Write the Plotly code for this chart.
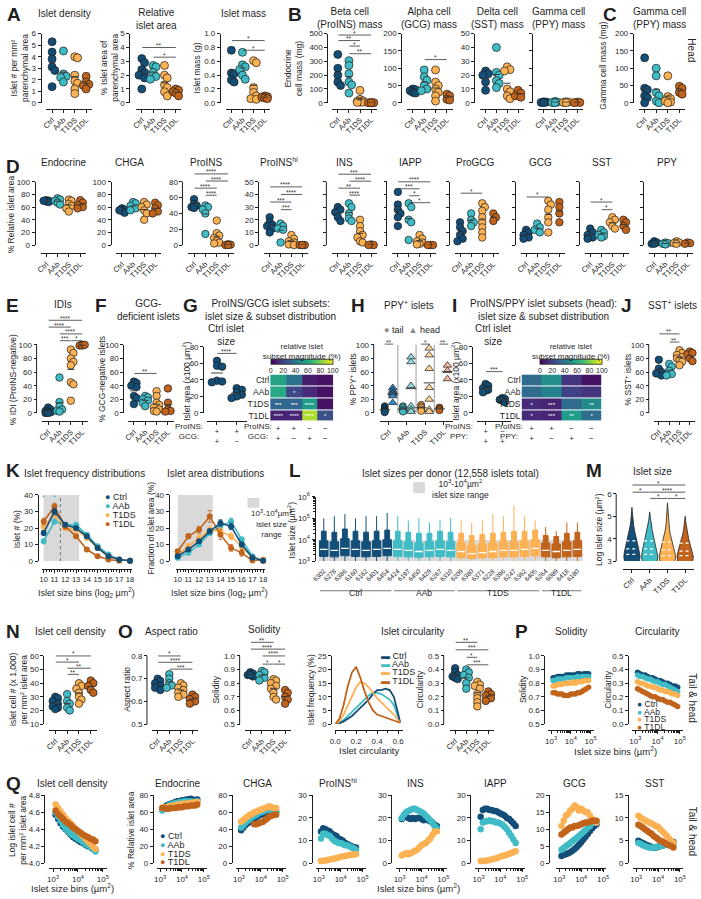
import numpy as np
import plotly.graph_objects as go

W, H = 701, 899
FONT = "Liberation Sans, Arial, Helvetica, sans-serif"
INK = "#1f1f1f"
GROUPS = ["Ctrl", "AAb", "T1DS", "T1DL"]
COLORS = ["#124e78", "#3fbcc6", "#fcb153", "#c1631a"]
HEAD_COLORS = ["#2d86c9", "#8cdadf", "#fdd596", "#f3b49c"]
BAND = "#d9d9d9"

# ======================= DATA =======================
A_density = [[5.3, 4.4, 3.8, 3.1, 2.8, 1.4], [4.5, 2.5, 2.3, 2.2, 1.8], [4.0, 3.9, 2.4, 1.9, 1.7, 1.2, 0.8], [2.3, 1.8, 1.6, 1.5, 1.2]]
A_area = [[3.2, 2.9, 2.4, 2.2, 2.0, 1.8, 1.0], [2.7, 2.6, 2.2, 1.9, 1.7], [2.7, 2.0, 1.8, 1.3, 1.1, 0.8, 0.5], [1.0, 0.9, 0.8, 0.7, 0.5]]
A_mass = [[0.76, 0.43, 0.42, 0.33, 0.30], [0.73, 0.55, 0.52, 0.48, 0.40, 0.34], [0.61, 0.58, 0.22, 0.15, 0.10, 0.06, 0.05], [0.10, 0.09, 0.08, 0.07, 0.06]]
B_beta = [[350, 250, 200, 150, 125], [305, 270, 210, 150, 130, 70], [90, 25, 15, 10, 5, 5, 3], [2, 1, 0, 0]]
B_alpha = [[40, 38, 35, 30, 28], [95, 75, 65, 50, 40, 35], [95, 60, 50, 40, 30, 20, 5], [25, 20, 10, 8]]
B_delta = [[23, 21, 20, 15, 9], [40, 22, 20, 16, 14, 11], [26, 24, 23, 10, 8, 5, 3], [9, 7, 5, 4]]
B_gamma = [[3, 2, 1, 0.5], [4, 2, 1, 0.5], [3, 2, 1, 0.5], [2, 1, 0.5]]
C_gamma_head = [[130, 42, 38, 20, 15, 0], [100, 78, 30, 20, 5, 0], [78, 18, 12, 5, 2, 0], [48, 42, 30, 25]]
A_area_sig = [(0, 3, 4.0, "**"), (1, 3, 3.3, "*")]
A_mass_sig = [(0, 3, 0.9, "*"), (1, 3, 0.76, "*")]
B_beta_sig = [(0, 3, 490, "*"), (0, 2, 450, "**"), (1, 2, 410, "*"), (1, 3, 355, "**")]
B_alpha_sig = [(1, 3, 125, "*")]

D_endo = [[71, 70, 69, 68, 70], [74, 72, 70, 67, 64], [72, 70, 65, 62, 58, 53], [71, 67, 63, 60, 58]]
D_chga = [[58, 56, 54, 51, 55], [68, 66, 62, 58, 55], [68, 64, 60, 55, 50, 40], [67, 63, 58, 53, 50]]
D_proins = [[58, 52, 50, 48, 47], [50, 48, 45, 40, 14], [31, 15, 12, 9, 5, 3, 2], [1, 0.5, 0, 0]]
D_proinshi = [[22, 18, 16, 15, 13, 10], [17, 15, 13, 12, 2], [8, 5, 3, 2, 1, 0.5, 0], [0, 0, 0, 0]]
D_ins = [[30, 28, 26, 22, 19], [33, 30, 25, 21, 19], [20, 15, 11, 8, 6, 3, 2], [0.5, 0, 0]]
D_iapp = [[42, 32, 28, 25, 22, 15], [33, 30, 20, 18, 4], [8, 5, 3, 2, 1, 0.5], [0, 0, 0]]
D_progcg = [[18, 14, 11, 8, 5, 3], [25, 20, 18, 15], [33, 30, 27, 22, 18, 14, 10, 6], [25, 22, 19]]
D_gcg = [[12, 10, 8, 6, 5], [17, 14, 12, 10], [35, 32, 28, 22, 18, 10], [34, 30, 25, 18]]
D_sst = [[13, 10, 8, 6, 5], [12, 10, 8, 7, 6], [22, 20, 18, 15, 13], [20, 18, 15, 12]]
D_ppy = [[3, 2, 1, 1], [2, 1.5, 1, 0.5], [3, 2, 1.5, 1], [2, 1.5, 1]]
D_proins_sig = [(0, 3, 90, "****"), (1, 3, 81, "****"), (0, 2, 72, "****"), (1, 2, 63, "****")]
D_proinshi_sig = [(0, 3, 46, "****"), (1, 3, 40, "****"), (0, 2, 34, "***"), (1, 2, 28, "***")]
D_ins_sig = [(0, 3, 56, "***"), (1, 3, 50.5, "****"), (0, 2, 45, "**"), (1, 2, 39.5, "****")]
D_iapp_sig = [(0, 3, 50, "****"), (0, 2, 44.5, "***"), (1, 2, 39, "*"), (1, 3, 33.5, "*")]
D_progcg_sig = [(0, 2, 41, "*")]
D_gcg_sig = [(0, 2, 38, "*")]
D_sst_sig = [(0, 2, 34, "*"), (1, 2, 28, "*")]

E_idi = [[8, 5, 3, 2, 1, 0, 0], [52, 16, 10, 5, 3, 2], [93, 88, 80, 75, 70, 45, 42, 18], [100, 99, 99, 100]]
E_idi_sig = [(0, 3, 136, "****"), (0, 2, 126, "****"), (1, 3, 116, "****"), (1, 2, 106, "***"), (2, 3, 106, "*")]
F_gcgneg = [[46, 44, 40, 38, 25, 22, 13], [25, 23, 20, 18, 15, 10], [32, 25, 15, 12, 8, 5, 3, 2], [36, 15, 5, 3, 2]]
F_gcgneg_sig = [(0, 2, 58, "**")]
G_size = [[63, 57, 56, 39, 38, 37], [30, 28, 25, 22, 20, 18]]
G_size_sig = [(0, 1, 72, "****")]
G_heat = [[58, 38, 8, 5], [60, 22, 12, 5], [33, 33, 55, 5], [10, 10, 88, 25]]
G_heat_txt = [["", "", "", ""], ["", "*", "", ""], ["***", "***", "****", ""], ["****", "****", "****", "*"]]
H_tail = [[10, 7, 5, 3, 2, 1], [10, 8, 5, 3, 2], [12, 10, 8, 5, 3], [8, 6, 4]]
H_head = [[37, 33, 30, 28, 25, 15], [82, 75, 40, 10, 5, 2], [95, 85, 65, 37, 20, 5, 2], [70, 62, 50]]
H_sig = [(0, "**"), (2, "*"), (3, "**")]
I_size = [[35, 33, 30, 28, 27, 25], [18, 17, 16, 15, 13]]
I_size_sig = [(0, 1, 50, "***")]
I_heat = [[35, 50, 15, 5], [35, 45, 20, 15], [12, 10, 35, 48], [12, 10, 55, 35]]
I_heat_txt = [["", "", "", ""], ["", "", "", ""], ["*", "***", "", "**"], ["*", "***", "**", "*"]]
J_sst = [[78, 65, 60, 55, 58], [72, 68, 62, 57, 55], [92, 88, 85, 82, 80, 78, 75, 70], [90, 86, 80, 76, 88]]
J_sst_sig = [(0, 2, 116, "**"), (1, 2, 104, "**")]

K_bins = [10, 11, 12, 13, 14, 15, 16, 17, 18]
K_freq = [[17, 30, 22, 20, 15, 8, 3, 1, 0.2], [12, 24, 22, 22, 16, 9, 4, 1, 0.2],
          [21, 28, 20, 19, 14, 8, 3, 1, 0.3], [24, 33, 21, 15, 7, 3, 1, 0.2, 0]]
K_freq_err = [[1.5, 2, 1, 1, 1, 0.8, 0.5, 0.3, 0.1], [1.5, 1.5, 1, 1, 1, 0.8, 0.5, 0.3, 0.1],
              [2, 2, 1.5, 1, 1, 0.8, 0.5, 0.3, 0.1], [2, 2, 1.5, 1, 1, 0.5, 0.3, 0.1, 0]]
K_area = [[3, 7, 12, 18, 23, 21, 10, 2, 0.3], [2, 5, 10, 17, 21, 24, 13, 3, 0.5],
          [4, 9, 14, 19, 18, 15, 9, 2, 1], [6, 15, 19, 27, 16, 8, 5, 0.3, 0]]
K_area_err = [[0.5, 1, 1, 1.5, 2, 2, 1.5, 0.8, 0.2], [0.5, 1, 1, 1.5, 2, 2, 1.5, 0.8, 0.2],
              [1, 1.5, 2, 2, 2, 2, 2, 1, 0.5], [1, 1.5, 2, 3.5, 3, 2, 2, 0.3, 0]]

L_donors = ["6302", "6278", "6386", "6160", "6162", "6401", "6454", "6424", "6197", "6450", "6429", "6267", "6310",
            "6209", "6380", "6371", "6228", "6396", "6247", "6362", "6405", "6264", "6089", "6418", "6180"]
L_donor_group = [0, 0, 0, 0, 0, 0, 0, 1, 1, 1, 1, 1, 1, 2, 2, 2, 2, 2, 2, 2, 2, 3, 3, 3, 3]
L_min = [3.0, 3.0, 3.0, 3.0, 3.0, 3.0, 3.0, 3.0, 3.0, 3.0, 3.0, 3.0, 3.0, 3.0, 3.0, 3.0, 3.0, 3.0, 3.0, 3.0, 3.0, 3.0, 3.0, 3.0, 3.0]
L_q1 = [3.22, 3.2, 3.25, 3.22, 3.2, 3.22, 3.25, 3.22, 3.2, 3.18, 3.2, 3.22, 3.2, 3.16, 3.12, 3.15, 3.16, 3.2, 3.2, 3.22, 3.25, 3.2, 3.16, 3.2, 3.22]
L_med = [3.55, 3.5, 3.6, 3.55, 3.5, 3.55, 3.6, 3.55, 3.5, 3.45, 3.5, 3.55, 3.5, 3.45, 3.35, 3.4, 3.45, 3.5, 3.5, 3.55, 3.6, 3.5, 3.45, 3.5, 3.55]
L_q3 = [3.95, 3.9, 4.05, 3.95, 3.9, 3.95, 4.0, 3.95, 3.9, 3.85, 3.9, 3.95, 3.9, 3.85, 3.75, 3.8, 3.85, 3.9, 3.9, 3.95, 4.0, 3.85, 3.8, 3.9, 3.95]
L_p90 = [4.4, 4.35, 4.5, 4.4, 4.35, 4.4, 4.45, 4.4, 4.35, 4.3, 4.3, 4.4, 4.35, 4.3, 4.2, 4.25, 4.3, 4.35, 4.4, 4.4, 4.45, 4.2, 4.15, 4.3, 4.35]
L_max = [5.0, 5.1, 5.2, 5.0, 5.1, 5.1, 5.25, 5.1, 4.9, 5.0, 4.8, 4.9, 5.0, 4.9, 4.8, 4.9, 5.2, 5.1, 5.6, 5.1, 4.9, 4.6, 4.4, 4.8, 4.8]

M_levels = [3.0, 3.2, 3.4, 3.6, 3.8, 4.0, 4.2, 4.4, 4.6, 4.8, 5.0, 5.2, 5.4, 5.6]
M_widths = [[0.92, 1.0, 0.93, 0.8, 0.66, 0.52, 0.4, 0.3, 0.21, 0.14, 0.08, 0.04, 0.0, 0.0],
            [0.92, 1.0, 0.94, 0.82, 0.68, 0.54, 0.41, 0.3, 0.21, 0.13, 0.07, 0.0, 0.0, 0.0],
            [0.92, 1.0, 0.9, 0.76, 0.6, 0.46, 0.35, 0.26, 0.18, 0.12, 0.08, 0.05, 0.03, 0.0],
            [0.92, 1.0, 0.9, 0.74, 0.57, 0.42, 0.3, 0.2, 0.12, 0.05, 0.0, 0.0, 0.0, 0.0]]
M_quart = [[3.3, 3.55, 3.9], [3.3, 3.55, 3.9], [3.25, 3.5, 3.85], [3.25, 3.45, 3.8]]
M_sig = [(0, 3, 6.4, "*"), (0, 1, 6.08, "*"), (1, 3, 6.08, "****"), (1, 2, 5.8, "*"), (2, 3, 5.8, "*")]

N_dens = [[30, 29, 27, 25, 23, 22, 21], [32, 27, 25, 22, 20], [40, 38, 36, 33, 30, 28, 25], [42, 40, 38, 35, 33]]
N_dens_sig = [(0, 3, 60, "*"), (0, 2, 55.5, "*"), (1, 3, 51, "**"), (1, 2, 46.5, "**")]
O_aspect = [[0.70, 0.69, 0.68, 0.67, 0.66, 0.65], [0.72, 0.70, 0.68, 0.67, 0.66],
            [0.68, 0.67, 0.66, 0.65, 0.64, 0.63, 0.62], [0.63, 0.62, 0.61, 0.60, 0.59]]
O_aspect_sig = [(0, 2, 0.80, "*"), (0, 3, 0.772, "****"), (1, 3, 0.742, "***")]
O_solid = [[0.88, 0.87, 0.86, 0.85, 0.86], [0.89, 0.88, 0.86, 0.84, 0.82],
           [0.83, 0.82, 0.80, 0.78, 0.76, 0.73, 0.70, 0.68], [0.75, 0.73, 0.70, 0.68, 0.65]]
O_solid_sig = [(0, 2, 1.10, "**"), (0, 3, 1.05, "****"), (1, 3, 1.0, "****"), (1, 2, 0.94, "*"), (2, 3, 0.94, "*")]
O_circ_bins = [0.0, 0.04, 0.08, 0.12, 0.16, 0.2, 0.24, 0.28, 0.32, 0.36, 0.4, 0.44, 0.48, 0.52, 0.56, 0.6, 0.62]
O_circ_freq = [[0, 0.3, 1, 2, 3, 4.5, 6, 7.5, 9, 11, 12.5, 12.5, 13, 12.5, 10, 4, 0.5],
               [0, 0.5, 1.5, 3, 4.5, 6, 7.5, 9, 10.5, 11.5, 11.5, 11, 10, 9, 7, 3, 0.5],
               [0, 1, 3.5, 7, 10.5, 13.5, 15.5, 15, 13.5, 11.5, 9.5, 8, 6.5, 5, 3.5, 1.5, 0.5],
               [0, 2, 7, 14, 19, 21, 17, 12, 8, 5, 3.5, 3, 2.5, 2, 1.5, 1, 0.5]]
O_circ = [[0.41, 0.38, 0.36, 0.35, 0.34, 0.33], [0.40, 0.38, 0.36, 0.34, 0.30, 0.26],
          [0.31, 0.29, 0.28, 0.26, 0.22, 0.19, 0.16, 0.13], [0.24, 0.22, 0.21, 0.19, 0.17]]
O_circ_sig = [(0, 2, 0.60, "**"), (0, 3, 0.545, "***"), (1, 2, 0.49, "*"), (1, 3, 0.435, "***")]

P_bins = [1259, 1629, 2109, 2738, 3548, 4597, 5957, 7718, 10000, 12957, 16788, 21752, 28184, 36517, 47315, 61306, 79433]
P_solid = [[0.84, 0.84, 0.85, 0.85, 0.85, 0.85, 0.86, 0.86, 0.86, 0.86, 0.86, 0.87, 0.87, 0.86, 0.87, 0.87, 0.87],
           [0.82, 0.82, 0.83, 0.83, 0.83, 0.83, 0.84, 0.84, 0.84, 0.84, 0.84, 0.85, 0.84, 0.85, 0.85, 0.85, 0.85],
           [0.78, 0.78, 0.79, 0.79, 0.79, 0.80, 0.80, 0.80, 0.80, 0.81, 0.80, 0.81, 0.81, 0.81, 0.82, 0.82, 0.82],
           [0.73, 0.73, 0.72, 0.72, 0.72, 0.71, 0.71, 0.71, 0.72, 0.72, 0.72, 0.73, 0.73, 0.74, 0.75, 0.76, 0.77]]
P_circ = [[0.38, 0.37, 0.36, 0.36, 0.35, 0.34, 0.34, 0.33, 0.32, 0.32, 0.31, 0.30, 0.30, 0.29, 0.28, 0.28, 0.27],
          [0.36, 0.35, 0.35, 0.34, 0.33, 0.33, 0.32, 0.31, 0.31, 0.30, 0.29, 0.29, 0.28, 0.27, 0.26, 0.25, 0.24],
          [0.31, 0.30, 0.30, 0.29, 0.28, 0.28, 0.27, 0.27, 0.26, 0.25, 0.25, 0.24, 0.24, 0.23, 0.22, 0.22, 0.21],
          [0.26, 0.25, 0.24, 0.23, 0.22, 0.21, 0.20, 0.20, 0.19, 0.18, 0.18, 0.17, 0.16, 0.16, 0.15, 0.14, 0.13]]

Q_bins = [1259, 1585, 1995, 2512, 3162, 3981, 5012, 6310, 7943, 10000, 12589, 15849, 19953, 25119, 31623, 39811, 50119]
Q_density = [[4.57, 4.52, 4.47, 4.43, 4.40, 4.37, 4.34, 4.31, 4.29, 4.27, 4.25, 4.24, 4.22, 4.20, 4.19, 4.17, 4.15],
             [4.60, 4.55, 4.50, 4.45, 4.41, 4.38, 4.35, 4.33, 4.31, 4.29, 4.27, 4.25, 4.23, 4.21, 4.19, 4.17, 4.14],
             [4.69, 4.65, 4.61, 4.57, 4.53, 4.50, 4.47, 4.44, 4.41, 4.38, 4.35, 4.32, 4.29, 4.26, 4.23, 4.20, 4.17],
             [4.62, 4.58, 4.55, 4.52, 4.49, 4.47, 4.45, 4.42, 4.40, 4.38, 4.36, 4.34, 4.32, 4.31, 4.29, 4.28, 4.26]]
Q_endo = [[64, 66, 68, 69, 70, 71, 72, 73, 73, 74, 74, 75, 75, 76, 75, 74, 75],
          [62, 64, 66, 68, 69, 70, 71, 71, 72, 72, 73, 73, 72, 73, 72, 71, 73],
          [65, 66, 66, 67, 67, 68, 68, 69, 69, 70, 70, 70, 71, 71, 71, 72, 72],
          [65, 65, 64, 64, 65, 65, 65, 66, 66, 66, 67, 67, 67, 68, 68, 68, 69]]
Q_chga = [[39, 42, 45, 47, 49, 51, 53, 54, 56, 57, 58, 59, 60, 61, 62, 61, 61],
          [42, 45, 48, 50, 52, 54, 56, 57, 59, 60, 61, 62, 63, 63, 62, 61, 60],
          [49, 51, 53, 55, 57, 58, 60, 61, 62, 63, 64, 65, 66, 67, 66, 65, 65],
          [None, None, None, None, None, None, 46, 46, 47, 48, 49, 51, 53, 55, 56, 57, 57]]
Q_proinshi = [[14, 15.5, 15, 14.5, 14, 13, 12.5, 12, 11, 10.5, 10, 9, 8.5, 8, 7.5, 7, 7],
              [11, 13, 13, 12.5, 12, 11, 10, 9.5, 9, 9, 8.5, 8, 8, 7.5, 7, 6.5, 6],
              [1, 1.2, 1.3, 1.5, 1.7, 1.9, 2.1, 2.3, 2.6, 2.9, 3.1, 3.3, 3.5, 3.7, 3.8, 3.9, 4.0],
              None]
Q_ins = [[19.5, 21, 20.5, 20, 19.5, 20, 19.5, 20, 20, 19.5, 19, 19.5, 19, 18.5, 18, 17, 16.5],
         [20, 21.5, 22.5, 23, 23.5, 24, 24, 23.5, 23, 22.5, 22, 21, 20, 19, 18, 16.5, 15.5],
         [3.5, 4, 4.5, 4, 4.5, 5, 5.5, 6, 7, 8, 8.5, 9, 10, 11, 12.5, 14, 14],
         None]
Q_iapp = [[20.5, 23.5, 24, 24, 23.5, 23.5, 23, 23, 22.5, 22, 21.5, 21, 20, 19.5, 18.5, 17.5, 16.5],
          [15, 18, 18.5, 18.5, 19, 18.5, 18.5, 18, 18, 17.5, 17, 16, 15, 13.5, 12, 10.5, 9],
          [1, 1, 1.2, 1.3, 1.5, 1.7, 2, 2.2, 2.5, 3, 3.2, 3.5, 3.8, 4.2, 4.5, 5, 5.3],
          None]
Q_gcg = [[2.2, 2.5, 2.7, 3, 3.3, 3.7, 4.2, 4.8, 5.5, 6.2, 7, 7.8, 8.6, 9.5, 10.3, 11, 11.5],
         [4, 4.5, 5, 5.5, 6, 6.5, 7, 7.5, 8, 8.6, 9.2, 9.8, 10.5, 11, 11.8, 12.2, 12],
         [11, 12.5, 14, 14.5, 15.5, 16, 17, 16.5, 15.5, 16, 15.5, 15, 15, 14, 13, 12.5, 12],
         [8.5, 9, 9.5, 10, 10.5, 10.5, 11, 11, 11.2, 11.5, 11.8, 12, 12, 12.2, 12.5, 12.5, 12.5]]
Q_sst = [[5, 4.7, 4.5, 4.2, 4, 3.8, 3.6, 3.5, 3.5, 3.6, 3.8, 4, 4.1, 4.3, 4.4, 4.5, 4.7],
         [4.5, 4.3, 4, 3.8, 3.6, 3.5, 3.4, 3.5, 3.6, 3.7, 3.8, 3.9, 4, 4.1, 4.2, 4, 4],
         [10.5, 10, 9.8, 9.5, 9.2, 9, 8.8, 8.5, 8.2, 8, 7.5, 7, 6.5, 6, 5.5, 5, 4.5],
         [8.5, 8.2, 7.9, 7.5, 7.2, 6.8, 6.5, 6, 5.7, 5.3, 5, 4.8, 4.5, 4.2, 4, 3.8, 3.5]]

# ======================= HELPERS =======================
fig = go.Figure()
ANN, SHP = [], []
AX = [0]
TICKF = dict(family=FONT, size=8, color=INK)


def T(x, y, s, size=10, xa="center", ya="middle", angle=0, color=INK, bold=False):
    ANN.append(dict(xref="paper", yref="paper", x=x / W, y=1 - y / H,
                    text=(f"<b>{s}</b>" if bold else s), showarrow=False,
                    xanchor=xa, yanchor=ya, textangle=angle,
                    font=dict(family=FONT, size=size, color=color)))


def YL(x, y, s):
    T(x, y, s, size=8.5, angle=-90)


def make_axes(xdom, ydom, xr, yr, yline_x=None, xline_y=None, xtype="linear", ytype="linear",
              xo=None, yo=None, yext=None):
    """ydom = (top_px, bottom_px) of the visible axis span yr; yext extends the data range
    above yr[1] (for significance marks) while the drawn axis line stops at yr[1]."""
    AX[0] += 1
    n = AX[0]
    s = "" if n == 1 else str(n)
    xid, yid = "x" + s, "y" + s
    base = dict(showgrid=False, zeroline=False, showline=True, linecolor=INK, linewidth=1,
                ticks="outside", ticklen=3, tickwidth=1, tickcolor=INK,
                tickfont=TICKF, fixedrange=True)
    ytop, ybot = ydom
    yrange = list(yr)
    ylinefl = True
    if yext is not None and yext > yr[1]:
        ppu = (ybot - ytop) / (yr[1] - yr[0])
        yrange = [yr[0], yext]
        SHP.append(dict(type="line", xref="paper", yref="paper", x0=yline_x / W, x1=yline_x / W,
                        y0=1 - ybot / H, y1=1 - ytop / H, line=dict(color=INK, width=1)))
        ytop = ybot - (yext - yr[0]) * ppu
        ylinefl = False
    xa = dict(base, domain=[xdom[0] / W, xdom[1] / W], range=xr, type=xtype)
    ya = dict(base, domain=[1 - ybot / H, 1 - ytop / H], range=yrange, type=ytype, showline=ylinefl)
    if xline_y is None:
        xa["anchor"] = yid
    else:
        xa.update(anchor="free", position=1 - xline_y / H)
    if yline_x is None:
        ya["anchor"] = xid
    else:
        ya.update(anchor="free", position=yline_x / W)
    if xo:
        xa.update(xo)
    if yo:
        ya.update(yo)
    fig.update_layout(**{"xaxis" + s: xa, "yaxis" + s: ya})
    return xid, yid


def sig(xid, yid, a, b, yv, s, color="#333333"):
    ANN.append(dict(x=b, y=yv, ax=a, ay=yv, xref=xid, yref=yid, axref=xid, ayref=yid, text="",
                    showarrow=True, arrowhead=0, arrowwidth=0.8, arrowcolor=color,
                    standoff=0, startstandoff=0, borderpad=0, font=dict(size=1)))
    ANN.append(dict(x=(a + b) / 2, y=yv, xref=xid, yref=yid, text=s, showarrow=False,
                    yanchor="bottom", yshift=-3.5, font=dict(family=FONT, size=6.5, color=color)))


def swarm(vals, ppu, ppc, d, maxoff=0.3):
    placed = []
    offs = [0.0] * len(vals)
    lim = maxoff * ppc
    cands = [0.0]
    k = 1
    while k * d * 0.35 <= lim + 1e-9:
        cands += [k * d * 0.35, -k * d * 0.35]
        k += 1
    for i in sorted(range(len(vals)), key=lambda q: -vals[q]):
        y = vals[i] * ppu
        best, bestd = 0.0, -1
        for c in cands:
            md = min([((c - px) ** 2 + (y - py) ** 2) ** 0.5 for px, py in placed] or [1e9])
            if md >= 0.55 * d:
                best = c
                break
            if md > bestd:
                best, bestd = c, md
        placed.append((best, y))
        offs[i] = best / ppc
    return offs


def dots(xid, yid, vals, center, ppu, ppc, color, msize, symbol="circle", maxoff=0.3):
    offs = swarm(vals, ppu, ppc, msize, maxoff)
    fig.add_trace(go.Scatter(x=[center + o for o in offs], y=vals, mode="markers",
                             marker=dict(size=msize, color=color, symbol=symbol,
                                         line=dict(width=0.7, color="#1b1b1b")),
                             cliponaxis=False, xaxis=xid, yaxis=yid, hoverinfo="skip"))
    m = float(np.mean(vals))
    fig.add_trace(go.Scatter(x=[center - 0.3, center + 0.3], y=[m, m], mode="lines",
                             line=dict(color="#3a3a3a", width=1), xaxis=xid, yaxis=yid, hoverinfo="skip"))


def dot_panel(xdom, ytop, ybot, yline_x, xline_y, yr, yticks, data, sigs=(), colors=None,
              labels=GROUPS, showyl=True, msize=7.5, fmt=None, xangle=-45):
    n = len(data)
    colors = colors or COLORS
    yo = dict(tickvals=yticks, showticklabels=showyl)
    if fmt:
        yo["tickformat"] = fmt
    xo = dict(tickvals=list(range(n)), ticktext=labels, tickangle=xangle,
              tickfont=dict(family=FONT, size=7.5, color=INK))
    yext = None
    if sigs:
        top = max(sg[2] for sg in sigs)
        if top >= yr[1]:
            yext = top + 0.02 * (yr[1] - yr[0])
    xid, yid = make_axes(xdom, (ytop, ybot), [-0.5, n - 0.5], yr, yline_x, xline_y, xo=xo, yo=yo, yext=yext)
    ppu = (ybot - ytop) / (yr[1] - yr[0])
    ppc = (xdom[1] - xdom[0]) / n
    for gi, vals in enumerate(data):
        dots(xid, yid, vals, gi, ppu, ppc, colors[gi], msize)
    for (a, b, yv, s) in sigs:
        sig(xid, yid, a, b, yv, s)
    return xid, yid


LOG_X = dict(tickvals=[1e3, 1e4, 1e5], ticktext=["10<sup>3</sup>", "10<sup>4</sup>", "10<sup>5</sup>"], tickangle=0,
             minor=dict(ticks="outside", ticklen=2, tickcolor=INK,
                        tickvals=[k * 10 ** e for e in (3, 4) for k in range(2, 10)]))


def size_panel(xdom, ytop, ybot, yline_x, xline_y, yr, yticks, series, bins, msize=6.5, fmt=None):
    yo = dict(tickvals=yticks)
    if fmt:
        yo["tickformat"] = fmt
    xid, yid = make_axes(xdom, (ytop, ybot), [2.85, 5.15], yr, yline_x, xline_y, xtype="log", xo=LOG_X, yo=yo)
    for gi, vals in enumerate(series):
        if vals is None:
            continue
        fig.add_trace(go.Scatter(x=bins, y=vals, mode="markers", marker=dict(size=msize, color=COLORS[gi]),
                                 cliponaxis=False, xaxis=xid, yaxis=yid, hoverinfo="skip"))
    return xid, yid


def legend_dots(x, y0, dy, sym="●", size=9):
    for gi, g in enumerate(GROUPS):
        T(x, y0 + gi * dy, f'<span style="color:{COLORS[gi]}">{sym}</span> {g}', size=size, xa="left")


def heat_panel(xdom, ydom, z, txt, coltext, rowhdr, cbx):
    xid, yid = make_axes(xdom, ydom, [-0.5, 3.5], [3.5, -0.5],
                         xo=dict(showline=False, ticks="", tickvals=[0, 1, 2, 3], ticktext=coltext,
                                 tickfont=TICKF, tickangle=0),
                         yo=dict(showline=False, ticks="", tickvals=[0, 1, 2, 3], ticktext=GROUPS,
                                 tickfont=dict(family=FONT, size=8.5, color=INK)))
    fig.add_trace(go.Heatmap(z=z, x=[0, 1, 2, 3], y=[0, 1, 2, 3], text=txt, texttemplate="%{text}",
                             textfont=dict(family=FONT, size=6, color="white"),
                             colorscale="Viridis", zmin=0, zmax=100, ygap=1, xaxis=xid, yaxis=yid,
                             hoverinfo="skip",
                             colorbar=dict(orientation="h", x=cbx / W, xanchor="center", y=1 - 371 / H,
                                           yanchor="bottom", len=62, lenmode="pixels", thickness=5,
                                           thicknessmode="pixels", tickvals=[0, 20, 40, 60, 80, 100],
                                           tickangle=0, ticks="", tickfont=dict(family=FONT, size=7, color=INK),
                                           title=dict(text="relative islet<br>subset magnitude (%)", side="top",
                                                      font=dict(family=FONT, size=8, color=INK)),
                                           outlinewidth=0.8, outlinecolor=INK, xpad=0, ypad=0)))
    T(xdom[0] + 4, 431, rowhdr, size=8, xa="right")
    return xid, yid


# ======================= ROW A / B / C =======================
RA = (28, 98, 104)
dot_panel((40, 86), RA[0], RA[1], 34, RA[2], [0, 6], list(range(7)), A_density, msize=8)
dot_panel((131, 177), RA[0], RA[1], 124, RA[2], [0, 5], list(range(6)), A_area, A_area_sig, msize=8)
dot_panel((222, 267), RA[0], RA[1], 216, RA[2], [0, 1], [0, 0.2, 0.4, 0.6, 0.8, 1.0], A_mass, A_mass_sig, msize=8, fmt=".1f")
dot_panel((330, 375), RA[0], RA[1], 325, RA[2], [0, 500], [0, 100, 200, 300, 400, 500], B_beta, B_beta_sig, msize=8)
dot_panel((406, 452), RA[0], RA[1], 400, RA[2], [0, 200], [0, 50, 100, 150, 200], B_alpha, B_alpha_sig, msize=8)
dot_panel((480, 524), RA[0], RA[1], 474, RA[2], [0, 50], [0, 10, 20, 30, 40, 50], B_delta, msize=8)
dot_panel((539, 584), RA[0], RA[1], 533, RA[2], [0, 200], [0, 50, 100, 150, 200], B_gamma, showyl=False, msize=8)
dot_panel((641, 688), RA[0], RA[1], 635, RA[2], [0, 200], [0, 50, 100, 150, 200], C_gamma_head, msize=8)

T(7, 9, "A", size=19, bold=True)
T(292, 9, "B", size=19, bold=True)
T(612, 9, "C", size=19, bold=True)
T(58, 8, "Islet density")
T(152, 13, "Relative<br>islet area")
T(240, 8, "Islet mass")
T(348, 12, "Beta cell<br>(ProINS) mass")
T(428, 12, "Alpha cell<br>(GCG) mass")
T(498, 12, "Delta cell<br>(SST) mass")
T(559, 12, "Gamma cell<br>(PPY) mass")
T(662, 12, "Gamma cell<br>(PPY) mass")
YL(12, 63, "Islet # per mm²<br>parenchymal area")
YL(104, 63, "% Islet area of<br>parenchymal area")
YL(193, 63, "Islet mass (g)")
YL(290, 63, "Endocrine<br>cell mass (mg)")
YL(605, 60, "Gamma cell mass (mg)")
T(694, 45, "Head", size=10, angle=90)

# ======================= ROW D =======================
RD = (178, 242, 250)
dot_panel((34, 80), RD[0], RD[1], 28, RD[2], [0, 100], [0, 20, 40, 60, 80, 100], D_endo)
dot_panel((111, 156), RD[0], RD[1], 105, RD[2], [0, 100], [0, 20, 40, 60, 80, 100], D_chga)
dot_panel((184, 230), RD[0], RD[1], 178, RD[2], [0, 80], [0, 20, 40, 60, 80], D_proins, D_proins_sig)
dot_panel((261, 305), RD[0], RD[1], 255, RD[2], [0, 50], [0, 10, 20, 30, 40, 50], D_proinshi, D_proinshi_sig)
d_rest = [((330, 375), 324, D_ins, D_ins_sig), ((391, 435), 385, D_iapp, D_iapp_sig),
          ((454, 499), 448, D_progcg, D_progcg_sig), ((521, 566), 515, D_gcg, D_gcg_sig),
          ((586, 631), 580, D_sst, D_sst_sig), ((651, 696), 645, D_ppy, [])]
for xd, yl, dat, sg in d_rest:
    dot_panel(xd, RD[0], RD[1], yl, RD[2], [0, 50], [0, 10, 20, 30, 40, 50], dat, sg, showyl=False)
T(6, 162, "D", size=19, bold=True)
for cx, s in [(57, "Endocrine"), (124, "CHGA"), (202, "ProINS"), (276, "ProINS<sup>hi</sup>"), (342, "INS"),
              (409, "IAPP"), (475, "ProGCG"), (541, "GCG"), (603, "SST"), (670, "PPY")]:
    T(cx, 158, s)
YL(4, 211, "% Relative islet area")

# ======================= ROW E - J =======================
RE = (343, 412, 420)
dot_panel((36, 82), RE[0], RE[1], 30, RE[2], [0, 100], [0, 20, 40, 60, 80, 100], E_idi, E_idi_sig)
dot_panel((123, 169), RE[0], RE[1], 118, RE[2], [0, 100], [0, 20, 40, 60, 80, 100], F_gcgneg, F_gcgneg_sig)
dot_panel((203, 243), 345, RE[1], 199, RE[2], [0, 80], [0, 20, 40, 60, 80], G_size, G_size_sig,
          colors=[COLORS[0], COLORS[0]], labels=["+<br>+", "+<br>−"], xangle=0)
T(201, 431, "ProINS:<br>GCG:", size=8, xa="right")
heat_panel((267, 331), (373, 421), G_heat, G_heat_txt, ["+<br>+", "+<br>−", "−<br>+", "−<br>−"], "ProINS:<br>GCG:", 299)

hx, hy = make_axes((378, 452), (343, 412), [-0.5, 3.5], [0, 100], 372, 420,
                   xo=dict(tickvals=[0, 1, 2, 3], ticktext=GROUPS, tickangle=-45,
                           tickfont=dict(family=FONT, size=7.5, color=INK)),
                   yo=dict(tickvals=[0, 20, 40, 60, 80, 100]), yext=104)
for xb in (0.5, 1.5, 2.5):
    fig.add_trace(go.Scatter(x=[xb, xb], y=[0, 100], mode="lines", line=dict(color="#9a9a9a", width=1),
                             xaxis=hx, yaxis=hy, hoverinfo="skip"))
h_ppu = 69 / 100
h_ppc = 74 / 8
for gi in range(4):
    dots(hx, hy, H_tail[gi], gi - 0.22, h_ppu, h_ppc, COLORS[gi], 7, maxoff=0.25)
    dots(hx, hy, H_head[gi], gi + 0.22, h_ppu, h_ppc, HEAD_COLORS[gi], 7.5, symbol="triangle-up", maxoff=0.25)
for gi, s in H_sig:
    sig(hx, hy, gi - 0.25, gi + 0.25, 101, s)
T(380, 328, '<span style="color:#8a8a8a">●</span> tail  <span style="color:#8a8a8a">▲</span> head', size=9, xa="left")

dot_panel((477, 511), 345, RE[1], 472, RE[2], [0, 80], [0, 20, 40, 60, 80], I_size, I_size_sig,
          colors=[COLORS[0], COLORS[0]], labels=["+<br>+", "−<br>+"], xangle=0)
T(475, 431, "ProINS:<br>PPY:", size=8, xa="right")
heat_panel((522, 603), (373, 421), I_heat, I_heat_txt, ["+<br>+", "+<br>−", "−<br>+", "−<br>−"], "ProINS:<br>PPY:", 572)
dot_panel((656, 698), RE[0], RE[1], 651, RE[2], [0, 100], [0, 20, 40, 60, 80, 100], J_sst, J_sst_sig)

T(6, 303, "E", size=19, bold=True)
T(95, 303, "F", size=19, bold=True)
T(186, 303, "G", size=19, bold=True)
T(356, 303, "H", size=19, bold=True)
T(454, 303, "I", size=19, bold=True)
T(628, 303, "J", size=19, bold=True)
T(57, 302, "IDIs")
T(144, 308, "GCG-<br>deficient islets")
T(267, 308, "ProINS/GCG islet subsets:<br>islet size & subset distribution")
T(222, 333, "Ctrl islet<br>size")
T(408, 303, "PPY<sup>+</sup> islets")
T(544, 308, "ProINS/PPY islet subsets (head):<br>islet size & subset distribution")
T(493, 333, "Ctrl islet<br>size")
T(675, 303, "SST<sup>+</sup> islets")
YL(6, 378, "% IDI (ProINS-negative)")
YL(97, 378, "% GCG-negative islets")
YL(182, 380, "Islet area (x100 µm<sup>2</sup>)")
YL(351, 378, "% PPY<sup>+</sup> islets")
YL(455, 380, "Islet area (x100 µm<sup>2</sup>)")
YL(630, 378, "% SST<sup>+</sup> islets")

# ======================= ROW K =======================
K_X = dict(tickvals=K_bins, ticktext=[str(b) for b in K_bins], tickangle=0,
           tickfont=dict(family=FONT, size=7.5, color=INK),
           minor=dict(ticks="outside", ticklen=2, tickcolor=INK, dtick=0.25, tick0=10))


def k_panel(xdom, yline, series, errs):
    xid, yid = make_axes(xdom, (495, 562), [9.8, 18.2], [0, 40], yline, 570, xo=K_X,
                         yo=dict(tickvals=[0, 10, 20, 30, 40]))
    SHP.append(dict(type="rect", xref=xid, yref=yid, x0=10, x1=13.29, y0=0, y1=40,
                    fillcolor=BAND, line=dict(width=0), layer="below"))
    for gi in (1, 2, 3, 0):
        fig.add_trace(go.Scatter(x=K_bins, y=series[gi], mode="lines+markers",
                                 line=dict(color=COLORS[gi], width=1.6), marker=dict(size=6, color=COLORS[gi]),
                                 error_y=dict(type="data", array=errs[gi], color=COLORS[gi], thickness=0.8, width=2),
                                 cliponaxis=False, xaxis=xid, yaxis=yid, hoverinfo="skip"))
    return xid, yid


k1x, k1y = k_panel((35, 127), 31, K_freq, K_freq_err)
fig.add_trace(go.Scatter(x=[11.55, 11.55], y=[0, 40], mode="lines", line=dict(color="#555555", width=0.8, dash="dot"),
                         xaxis=k1x, yaxis=k1y, hoverinfo="skip"))
for xb in (10, 11):
    ANN.append(dict(x=xb, y=38.5, xref=k1x, yref=k1y, text="*", showarrow=False,
                    font=dict(family=FONT, size=8, color=COLORS[1])))
k_panel((171, 262), 164, K_area, K_area_err)
legend_dots(97, 497, 9)
SHP.append(dict(type="rect", xref="paper", yref="paper", x0=244 / W, x1=256 / W, y0=1 - 508 / H, y1=1 - 498 / H,
                fillcolor=BAND, line=dict(width=0)))
T(268, 524, "10<sup>3</sup>-10<sup>4</sup>µm<sup>2</sup><br>islet size<br>range", size=8)
T(6, 470, "K", size=19, bold=True)
T(79, 473, "Islet frequency distributions")
T(212, 473, "Islet area distributions")
YL(10, 530, "Islet # (%)")
YL(146, 528, "Fraction of islet area (%)")
T(81, 594, "Islet size bins (log<sub>2</sub> µm<sup>2</sup>)", size=9)
T(216, 594, "Islet size bins (log<sub>2</sub> µm<sup>2</sup>)", size=9)

# ======================= ROW L =======================
L_minor = [float(np.log10(k * 10 ** e)) for e in (3, 4, 5) for k in range(2, 10)]
lx, ly = make_axes((316, 584), (497, 562), [-0.5, 24.5], [3, 6], 312, 566,
                   xo=dict(showline=False, ticks="", tickvals=list(range(25)), ticktext=L_donors, tickangle=-45,
                           tickfont=dict(family=FONT, size=6.5, color=INK)),
                   yo=dict(tickvals=[3, 4, 5, 6],
                           ticktext=["10<sup>3</sup>", "10<sup>4</sup>", "10<sup>5</sup>", "10<sup>6</sup>"],
                           minor=dict(ticks="outside", ticklen=2, tickcolor=INK, tickvals=L_minor)))
SHP.append(dict(type="rect", xref=lx + " domain", yref=ly, x0=0, x1=1, y0=3, y1=4,
                fillcolor=BAND, line=dict(width=0), layer="below"))
for gi in range(4):
    idx = [i for i, g in enumerate(L_donor_group) if g == gi]
    fig.add_trace(go.Box(x=idx, q1=[L_q1[i] for i in idx], median=[L_med[i] for i in idx],
                         q3=[L_q3[i] for i in idx], lowerfence=[L_min[i] for i in idx],
                         upperfence=[L_q3[i] for i in idx], width=0.8, fillcolor=COLORS[gi],
                         line=dict(color=COLORS[gi], width=1), whiskerwidth=0, boxpoints=False,
                         xaxis=lx, yaxis=ly, hoverinfo="skip"))
    fig.add_trace(go.Box(x=idx, q1=[L_q3[i] for i in idx], median=[L_q3[i] for i in idx],
                         q3=[L_p90[i] for i in idx], lowerfence=[L_q3[i] for i in idx],
                         upperfence=[L_max[i] for i in idx], width=0.45, fillcolor=COLORS[gi],
                         line=dict(color=COLORS[gi], width=1), whiskerwidth=0, boxpoints=False,
                         xaxis=lx, yaxis=ly, hoverinfo="skip"))
    mx, my = [], []
    for i in idx:
        mx += [i - 0.36, i + 0.36, None]
        my += [L_med[i], L_med[i], None]
    fig.add_trace(go.Scatter(x=mx, y=my, mode="lines", line=dict(color="white", width=1.3),
                             xaxis=lx, yaxis=ly, hoverinfo="skip"))
    ANN.append(dict(x=idx[-1] + 0.4, y=1 - 592 / H, ax=idx[0] - 0.4, ay=0, xref=lx, yref="paper", axref=lx,
                    ayref="pixel", text="", showarrow=True, arrowhead=0, arrowwidth=0.8, arrowcolor="#555555",
                    standoff=0, startstandoff=0, borderpad=0, font=dict(size=1)))
    ANN.append(dict(x=(idx[0] + idx[-1]) / 2, y=1 - 601 / H, xref=lx, yref="paper", text=GROUPS[gi],
                    showarrow=False, font=dict(family=FONT, size=8.5, color=INK)))
T(292, 470, "L", size=19, bold=True)
T(450, 473, "Islet sizes per donor (12,558 islets total)")
SHP.append(dict(type="rect", xref="paper", yref="paper", x0=412 / W, x1=424 / W, y0=1 - 493 / H, y1=1 - 482 / H,
                fillcolor=BAND, line=dict(width=0)))
T(429, 489, "10<sup>3</sup>-10<sup>4</sup>µm<sup>2</sup><br>islet size range", size=8.5, xa="left")
YL(289, 530, "Islet size (µm<sup>2</sup>)")

# ======================= ROW M =======================
mxid, myid = make_axes((625, 697), (494, 562), [-0.5, 3.5], [3, 6], 618, 570,
                       xo=dict(tickvals=[0, 1, 2, 3], ticktext=GROUPS, tickangle=-45,
                               tickfont=dict(family=FONT, size=7.5, color=INK)),
                       yo=dict(tickvals=[3, 4, 5, 6]), yext=6.45)
for gi in range(4):
    wl = M_widths[gi]
    k_end = next((k for k, w in enumerate(wl) if w == 0), len(wl) - 1)
    lv = M_levels[:k_end + 1]
    ww = wl[:k_end + 1]
    px_ = [gi - 0.46 * w for w in ww] + [gi + 0.46 * w for w in ww[::-1]]
    py_ = lv + lv[::-1]
    fig.add_trace(go.Scatter(x=px_, y=py_, mode="lines", fill="toself", fillcolor=COLORS[gi],
                             line=dict(color="#222222", width=0.8), xaxis=mxid, yaxis=myid, hoverinfo="skip"))
    qx, qy = [], []
    for q in M_quart[gi]:
        qx += [gi - 0.32, gi + 0.32, None]
        qy += [q, q, None]
    fig.add_trace(go.Scatter(x=qx, y=qy, mode="lines", line=dict(color="white", width=1.2, dash="dot"),
                             xaxis=mxid, yaxis=myid, hoverinfo="skip"))
for a, b, yv, s in M_sig:
    sig(mxid, myid, a, b, yv, s)
T(596, 470, "M", size=19, bold=True)
T(655, 471, "Islet size")
YL(601, 530, "Log islet size (µm<sup>2</sup>)")

# ======================= ROW N / O / P =======================
RN = (658, 727, 733)
dot_panel((43, 91), RN[0], RN[1], 37, RN[2], [10, 60], [10, 20, 30, 40, 50, 60], N_dens, N_dens_sig)
dot_panel((147, 194), RN[0], RN[1], 142, RN[2], [0.5, 0.8], [0.5, 0.6, 0.7, 0.8], O_aspect, O_aspect_sig, fmt=".1f")
dot_panel((241, 288), RN[0], RN[1], 236, RN[2], [0.5, 1.0], [0.5, 0.6, 0.7, 0.8, 0.9, 1.0], O_solid, O_solid_sig, fmt=".1f")
ox, oy = make_axes((333, 402), (RN[0], RN[1]), [0, 0.65], [0, 25], 329, RN[2],
                   xo=dict(tickvals=[0, 0.2, 0.4, 0.6], tickformat=".1f", tickangle=0,
                           minor=dict(ticks="outside", ticklen=2, tickcolor=INK, dtick=0.1)),
                   yo=dict(tickvals=[0, 5, 10, 15, 20, 25]))
for gi in (1, 0, 2, 3):
    fig.add_trace(go.Scatter(x=O_circ_bins, y=O_circ_freq[gi], mode="lines", line=dict(color=COLORS[gi], width=1.8),
                             xaxis=ox, yaxis=oy, hoverinfo="skip"))
legend_dots(377, 658, 8.3, sym="▬", size=9)
dot_panel((449, 494), RN[0], RN[1], 443, RN[2], [0, 0.5], [0, 0.1, 0.2, 0.3, 0.4, 0.5], O_circ, O_circ_sig, fmt=".1f")

size_panel((549, 595), RN[0], RN[1], 545, RN[2], [0.5, 1.0], [0.5, 0.6, 0.7, 0.8, 0.9, 1.0], P_solid, P_bins, msize=5.5, fmt=".1f")
size_panel((634, 686), RN[0], RN[1], 630, RN[2], [0, 0.5], [0, 0.1, 0.2, 0.3, 0.4, 0.5], P_circ, P_bins, msize=5.5, fmt=".1f")
legend_dots(637, 707, 7.5, size=8.5)

T(6, 633, "N", size=19, bold=True)
T(120, 633, "O", size=19, bold=True)
T(522, 633, "P", size=19, bold=True)
T(64, 633, "Islet cell density")
T(167, 633, "Aspect ratio")
T(261, 631, "Solidity")
T(411, 633, "Islet circularity")
T(572, 633, "Solidity")
T(659, 633, "Circularity")
YL(12, 692, "Islet cell # (x 1,000)<br>per mm<sup>2</sup> islet area")
YL(121, 692, "Aspect ratio")
YL(212, 692, "Solidity")
YL(308, 692, "Islet frequency (%)")
YL(418, 692, "Circularity")
YL(523, 692, "Solidity")
YL(609, 692, "Circularity")
T(367, 754, "Islet circularity", size=9.5)
T(617, 754, "Islet size bins (µm<sup>2</sup>)", size=9.5)
T(695, 700, "Tail & head", size=10, angle=90)

# ======================= ROW Q =======================
RQ = (799, 868, 873)
size_panel((43, 101), RQ[0], RQ[1], 38, RQ[2], [4.0, 4.8], [4.0, 4.2, 4.4, 4.6, 4.8], Q_density, Q_bins, fmt=".1f")
size_panel((152, 203), RQ[0], RQ[1], 148, RQ[2], [0, 80], [0, 20, 40, 60, 80], Q_endo, Q_bins)
legend_dots(153, 840, 9, size=9)
size_panel((232, 283), RQ[0], RQ[1], 228, RQ[2], [0, 80], [0, 20, 40, 60, 80], Q_chga, Q_bins)
size_panel((313, 364), RQ[0], RQ[1], 309, RQ[2], [0, 30], [0, 10, 20, 30], Q_proinshi, Q_bins)
size_panel((395, 446), RQ[0], RQ[1], 390, RQ[2], [0, 30], [0, 10, 20, 30], Q_ins, Q_bins)
size_panel((475, 526), RQ[0], RQ[1], 470, RQ[2], [0, 30], [0, 10, 20, 30], Q_iapp, Q_bins)
size_panel((557, 608), RQ[0], RQ[1], 550, RQ[2], [0, 20], [0, 5, 10, 15, 20], Q_gcg, Q_bins)
size_panel((635, 686), RQ[0], RQ[1], 630, RQ[2], [0, 15], [0, 5, 10, 15], Q_sst, Q_bins)
T(7, 787, "Q", size=19, bold=True)
for cx, s in [(66, "Islet cell density"), (173, "Endocrine"), (254, "CHGA"), (336, "ProINS<sup>hi</sup>"),
              (414, "INS"), (496, "IAPP"), (576, "GCG"), (657, "SST")]:
    T(cx, 787, s)
YL(11, 834, "Log islet cell #<br>per mm<sup>2</sup> islet area")
YL(126, 834, "% Relative islet area")
T(66, 893, "Islet size bins (µm<sup>2</sup>)", size=9.5)
T(417, 893, "Islet size bins (µm<sup>2</sup>)", size=9.5)
T(695, 835, "Tail & head", size=10, angle=90)

fig.update_traces(showlegend=False)
fig.update_layout(width=W, height=H, margin=dict(l=0, r=0, t=0, b=0), autosize=False,
                  paper_bgcolor="white", plot_bgcolor="white", showlegend=False,
                  font=dict(family=FONT, color=INK, size=9),
                  annotations=ANN, shapes=SHP)
fig.write_html("out.html", config={"displayModeBar": False, "staticPlot": True})
